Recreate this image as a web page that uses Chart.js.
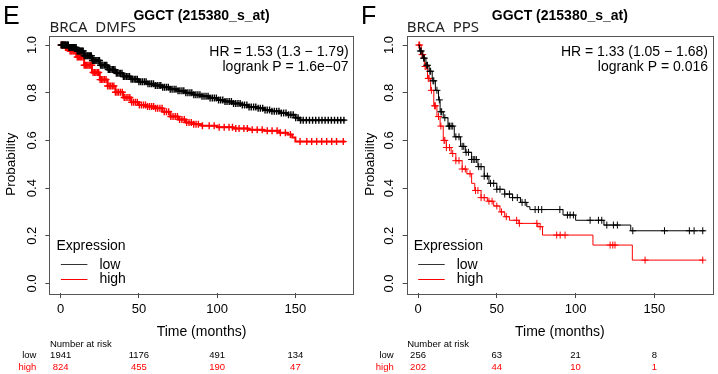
<!DOCTYPE html>
<html>
<head>
<meta charset="utf-8">
<script src="https://cdn.jsdelivr.net/npm/chart.js@4.4.1/dist/chart.umd.min.js"></script>
<style>
  body { margin: 0; background: #fff; }
  #wrap { position: relative; width: 718px; height: 374px; overflow: hidden; }
  canvas { position: absolute; top: 0; }
  #chartE { left: 0; }
  #chartF { left: 359px; }
</style>
</head>
<body>
<div id="wrap">
  <canvas id="chartE" width="359" height="374"></canvas>
  <canvas id="chartF" width="359" height="374"></canvas>
</div>
<script>
// axis ticks
const xTicks = [0, 50, 100, 150];
const yTicks = [0, 0.2, 0.4, 0.6, 0.8, 1.0];
const riskTimes = [0, 50, 100, 150];

// E: BRCA DMFS, low expression
const dmfsLowTime = [0, 5, 10, 15, 20, 25, 30, 35, 40, 45, 50, 55, 60, 65, 70, 75, 80, 85, 90, 95, 100, 105, 110, 115, 120, 125, 130, 135, 140, 145, 150, 153, 182];
const dmfsLowSurv = [1.0, 0.99, 0.975, 0.955, 0.935, 0.915, 0.897, 0.882, 0.868, 0.856, 0.846, 0.838, 0.83, 0.823, 0.815, 0.808, 0.8, 0.792, 0.785, 0.778, 0.77, 0.763, 0.755, 0.748, 0.74, 0.735, 0.728, 0.722, 0.715, 0.708, 0.695, 0.685, 0.685];
const dmfsLowCens = [0.3, 0.8, 1.2, 1.7, 2.1, 2.6, 3, 3.5, 4, 4.4, 4.9, 5.3, 5.8, 6.2, 6.8, 7.3, 7.7, 8.2, 8.8, 9.3, 9.9, 10.5, 11, 11.6, 12.1, 12.7, 13.3, 13.8, 14.4, 15, 15.7, 16.3, 17, 17.6, 18.3, 19, 19.6, 20.3, 21, 21.8, 22.5, 23.2, 24, 24.8, 25.5, 26.3, 27, 27.9, 28.7, 29.5, 30.4, 31.2, 32.1, 33, 33.8, 34.7, 35.6, 36.5, 37.4, 38.3, 39.2, 40.1, 41, 42, 43, 44, 45, 46, 47, 48, 49, 50, 51.2, 52.3, 53.5, 54.6, 55.8, 57, 58.1, 59.3, 60.5, 61.7, 62.9, 64, 65.2, 66.4, 67.6, 68.8, 70, 71.2, 72.5, 73.7, 75, 76.2, 77.5, 78.7, 80, 81.3, 82.6, 83.8, 85.1, 86.4, 87.7, 89, 90.3, 91.6, 92.9, 94.2, 95.5, 96.9, 98.2, 99.5, 100.9, 102.2, 103.6, 105, 106.3, 107.7, 109.1, 110.5, 111.9, 113.3, 114.7, 116.1, 117.5, 119, 120.4, 121.8, 123.3, 124.7, 126.2, 127.6, 129.1, 130.6, 132, 133.5, 135, 136.5, 138, 139.5, 141, 142.5, 144, 145.6, 147.1, 148.6, 150.2, 151.7, 153.3, 155, 157, 159, 161, 163, 165, 167, 169, 171, 173, 175, 177, 179, 181];

// E: BRCA DMFS, high expression
const dmfsHighTime = [0, 3, 6, 10, 15, 20, 25, 30, 35, 40, 45, 50, 55, 60, 65, 70, 75, 80, 85, 90, 100, 110, 120, 130, 140, 145, 148, 150, 182];
const dmfsHighSurv = [1.0, 0.99, 0.975, 0.95, 0.915, 0.885, 0.855, 0.828, 0.802, 0.78, 0.76, 0.748, 0.742, 0.735, 0.72, 0.7, 0.688, 0.675, 0.668, 0.662, 0.655, 0.65, 0.645, 0.64, 0.632, 0.625, 0.612, 0.595, 0.595];
const dmfsHighCens = [0.4, 0.9, 1.5, 2, 2.6, 3.1, 3.7, 4.2, 4.8, 5.4, 6, 6.6, 7.2, 7.9, 8.5, 9.2, 9.9, 10.6, 11.3, 12, 12.8, 13.5, 14.3, 15, 15.8, 16.6, 17.4, 18.2, 19, 19.9, 20.7, 21.6, 22.5, 23.4, 24.3, 25.2, 26.1, 27, 28, 29, 30, 31, 32, 33, 34, 35, 36, 37, 38.2, 39.4, 40.6, 41.8, 43, 44.2, 45.4, 46.6, 47.8, 49, 50.3, 51.6, 52.9, 54.2, 55.5, 56.8, 58.1, 59.4, 60.7, 62, 63.4, 64.8, 66.2, 67.6, 69, 70.4, 71.8, 73.2, 74.6, 76, 77.5, 79, 80.5, 82, 83.5, 85, 86.5, 88, 90.6, 94.9, 98.1, 101.3, 104.5, 107.6, 109.8, 111.9, 114, 117.1, 119.3, 122.4, 125.6, 128.8, 132, 135.1, 138.3, 140.4, 143.6, 146.8, 153, 157.3, 160.4, 163.6, 166.8, 170, 173.2, 176.3, 180.6];

const dmfsRiskLow = [1941, 1176, 491, 134];
const dmfsRiskHigh = [824, 455, 190, 47];

// F: BRCA PPS, low expression
const ppsLowTime = [0, 1, 3, 5, 7, 9, 11, 13, 14, 16, 19, 23, 27, 30, 34, 38, 42, 45, 50, 55, 60, 65, 69, 71, 92, 100, 118, 135, 182];
const ppsLowSurv = [1.0, 0.975, 0.945, 0.915, 0.89, 0.85, 0.81, 0.77, 0.72, 0.695, 0.66, 0.615, 0.575, 0.55, 0.52, 0.49, 0.45, 0.42, 0.395, 0.375, 0.36, 0.34, 0.322, 0.31, 0.287, 0.265, 0.245, 0.221, 0.221];
const ppsLowCens = [1.5, 2, 3.5, 4, 5.5, 6, 7.5, 8, 9.5, 10, 12, 13.5, 14.5, 15, 17, 19.5, 20, 21, 22, 24, 26, 28, 29, 30.5, 32, 34, 35, 36, 37, 38.5, 40, 42, 44, 46, 48, 50, 52, 55, 58, 60, 63, 66, 68, 74.3, 76.4, 78.5, 90, 94.8, 96.5, 98.6, 109.2, 114.5, 116.6, 119.8, 124, 126.5, 136.3, 156.4, 172.2, 175.2, 180.7];

// F: BRCA PPS, high expression
const ppsHighTime = [0, 2, 4, 6, 8, 10, 12, 14, 16, 18, 21, 24, 28, 31, 34, 36, 40, 44, 48, 52, 55, 58, 64, 76, 79, 111, 136, 181];
const ppsHighSurv = [1.0, 0.96, 0.91, 0.86, 0.81, 0.745, 0.7, 0.66, 0.6, 0.57, 0.545, 0.515, 0.48, 0.46, 0.42, 0.39, 0.36, 0.345, 0.325, 0.3, 0.28, 0.265, 0.252, 0.238, 0.203, 0.161, 0.098, 0.098];
const ppsHighCens = [0.5, 1, 2.5, 3, 4.5, 5, 6.5, 7, 8.5, 10.5, 11, 13, 14.5, 16.5, 17, 18, 20, 22, 24, 26, 28, 30, 33, 36.5, 38, 40, 42, 45, 47, 50, 53, 56, 62.6, 64.3, 75.4, 77.5, 88, 90.2, 93.3, 121.9, 123.6, 125, 144.1, 180.7];

const ppsRiskLow = [256, 63, 21, 8];
const ppsRiskHigh = [202, 44, 10, 1];

// layout (canvas pixels)
const canvasW = 359, canvasH = 374;
const areaTop = 35.5, areaBottom = 293;
const FONT = "'Liberation Sans', Arial, Helvetica, sans-serif";
const RED = '#ff0000';

function survAt(times, surv, t) {
    let s = surv[0];
    for (let i = 0; i < times.length; i++) {
        if (times[i] <= t) s = surv[i];
    }
    return s;
}

function curve(times, surv, color, width) {
    return {
        data: times.map((t, i) => ({ x: t, y: surv[i] })),
        borderColor: color,
        borderWidth: width,
        stepped: 'before',
        pointRadius: 0,
        fill: false
    };
}

function censored(cens, times, surv, color, width) {
    return {
        data: cens.map(t => ({ x: t, y: survAt(times, surv, t) })),
        showLine: false,
        pointStyle: 'cross',
        pointRadius: 3.5,
        borderColor: color,
        borderWidth: width
    };
}

const annotations = {
    id: 'kmText',
    afterDraw(chart, args, opts) {
        const ctx = chart.ctx;
        const a = chart.chartArea;
        const xs = chart.scales.x, ys = chart.scales.y;
        ctx.save();

        // box
        ctx.strokeStyle = '#555';
        ctx.lineWidth = 1;
        ctx.strokeRect(Math.round(a.left) + 0.5, Math.round(a.top) + 0.5,
            Math.round(a.right - a.left), Math.round(a.bottom - a.top));

        ctx.fillStyle = '#000';
        // y tick labels, rotated like R
        ctx.font = '13px ' + FONT;
        ctx.textAlign = 'center';
        ctx.textBaseline = 'middle';
        yTicks.forEach(v => {
            ctx.save();
            ctx.translate(a.left - 17, ys.getPixelForValue(v));
            ctx.rotate(-Math.PI / 2);
            ctx.fillText(v.toFixed(1), 0, 0);
            ctx.restore();
        });
        // y title
        ctx.save();
        ctx.font = '13.5px ' + FONT;
        ctx.translate(11, (a.top + a.bottom) / 2);
        ctx.rotate(-Math.PI / 2);
        ctx.fillText('Probability', 0, 0);
        ctx.restore();

        // x title
        ctx.textBaseline = 'alphabetic';
        ctx.font = '14px ' + FONT;
        ctx.fillText('Time (months)', (a.left + a.right) / 2, 336);

        // title
        ctx.font = 'bold 14px ' + FONT;
        ctx.fillText(opts.title, (a.left + a.right) / 2, 20);

        // panel letter
        ctx.textAlign = 'left';
        ctx.font = '25px ' + FONT;
        ctx.fillText(opts.letter, opts.letterX, 24);

        // cohort
        ctx.font = "15px 'Noto Sans', sans-serif";
        ctx.fillStyle = '#222';
        ctx.fillText(opts.cohort, a.left, 31.5);

        // HR and p-value
        ctx.fillStyle = '#000';
        ctx.textAlign = 'right';
        ctx.font = '14px ' + FONT;
        ctx.fillText(opts.hr, a.right - 5, 55.5);
        ctx.fillText(opts.p, a.right - 5, 70.5);

        // legend
        ctx.textAlign = 'left';
        ctx.fillText('Expression', a.left + 7, 250);
        ctx.fillText('low', a.left + 50, 268.5);
        ctx.fillText('high', a.left + 50, 283);
        ctx.lineWidth = 1;
        ctx.strokeStyle = '#333';
        ctx.beginPath();
        ctx.moveTo(a.left + 11.5, 264.5);
        ctx.lineTo(a.left + 38, 264.5);
        ctx.stroke();
        ctx.strokeStyle = RED;
        ctx.beginPath();
        ctx.moveTo(a.left + 11.5, 279.5);
        ctx.lineTo(a.left + 38, 279.5);
        ctx.stroke();

        // number at risk
        ctx.font = '9.5px ' + FONT;
        ctx.fillText('Number at risk', a.left + 0.5, 347);
        ctx.textAlign = 'right';
        ctx.fillText('low', a.left - 13, 358);
        ctx.fillStyle = RED;
        ctx.fillText('high', a.left - 13, 369.5);
        ctx.textAlign = 'center';
        riskTimes.forEach((t, i) => {
            const px = xs.getPixelForValue(t);
            ctx.fillStyle = '#000';
            ctx.fillText(String(opts.riskLow[i]), px, 358);
            ctx.fillStyle = RED;
            ctx.fillText(String(opts.riskHigh[i]), px, 369.5);
        });
        ctx.restore();
    }
};

function makeChart(id, areaLeft, areaRight, lineWidth, crossWidth, low, high, text) {
    return new Chart(document.getElementById(id), {
        type: 'line',
        data: {
            datasets: [
                curve(low.time, low.surv, '#000', lineWidth),
                censored(low.cens, low.time, low.surv, '#000', crossWidth),
                curve(high.time, high.surv, RED, lineWidth),
                censored(high.cens, high.time, high.surv, RED, crossWidth)
            ]
        },
        options: {
            responsive: false,
            animation: false,
            events: [],
            layout: { padding: { left: 0, right: canvasW - areaRight, top: areaTop, bottom: 0 } },
            plugins: {
                legend: { display: false },
                tooltip: { enabled: false },
                kmText: text
            },
            scales: {
                x: {
                    type: 'linear',
                    min: -7.2,
                    max: 187.2,
                    afterBuildTicks: s => { s.ticks = xTicks.map(v => ({ value: v })); },
                    afterFit: s => { s.height = canvasH - areaBottom; },
                    grid: { display: true, drawOnChartArea: false, drawTicks: true, tickLength: 5, color: '#444' },
                    border: { display: false },
                    ticks: { color: '#000', font: { family: FONT, size: 13 }, padding: 4, maxRotation: 0, autoSkip: false }
                },
                y: {
                    type: 'linear',
                    min: -0.04,
                    max: 1.04,
                    afterBuildTicks: s => { s.ticks = yTicks.map(v => ({ value: v })); },
                    afterFit: s => { s.width = areaLeft; },
                    grid: { display: true, drawOnChartArea: false, drawTicks: true, tickLength: 4, color: '#444' },
                    border: { display: false },
                    ticks: { display: false }
                }
            }
        },
        plugins: [annotations]
    });
}

makeChart('chartE', 49.4, 355.2, 2, 1.4,
    { time: dmfsLowTime, surv: dmfsLowSurv, cens: dmfsLowCens },
    { time: dmfsHighTime, surv: dmfsHighSurv, cens: dmfsHighCens },
    { letter: 'E', letterX: 3, title: 'GGCT (215380_s_at)', cohort: 'BRCA  DMFS',
      hr: 'HR = 1.53 (1.3 \u2212 1.79)', p: 'logrank P = 1.6e\u221207',
      riskLow: dmfsRiskLow, riskHigh: dmfsRiskHigh });

makeChart('chartF', 47.7, 354, 1, 1,
    { time: ppsLowTime, surv: ppsLowSurv, cens: ppsLowCens },
    { time: ppsHighTime, surv: ppsHighSurv, cens: ppsHighCens },
    { letter: 'F', letterX: 2, title: 'GGCT (215380_s_at)', cohort: 'BRCA  PPS',
      hr: 'HR = 1.33 (1.05 \u2212 1.68)', p: 'logrank P = 0.016',
      riskLow: ppsRiskLow, riskHigh: ppsRiskHigh });
</script>
</body>
</html>
